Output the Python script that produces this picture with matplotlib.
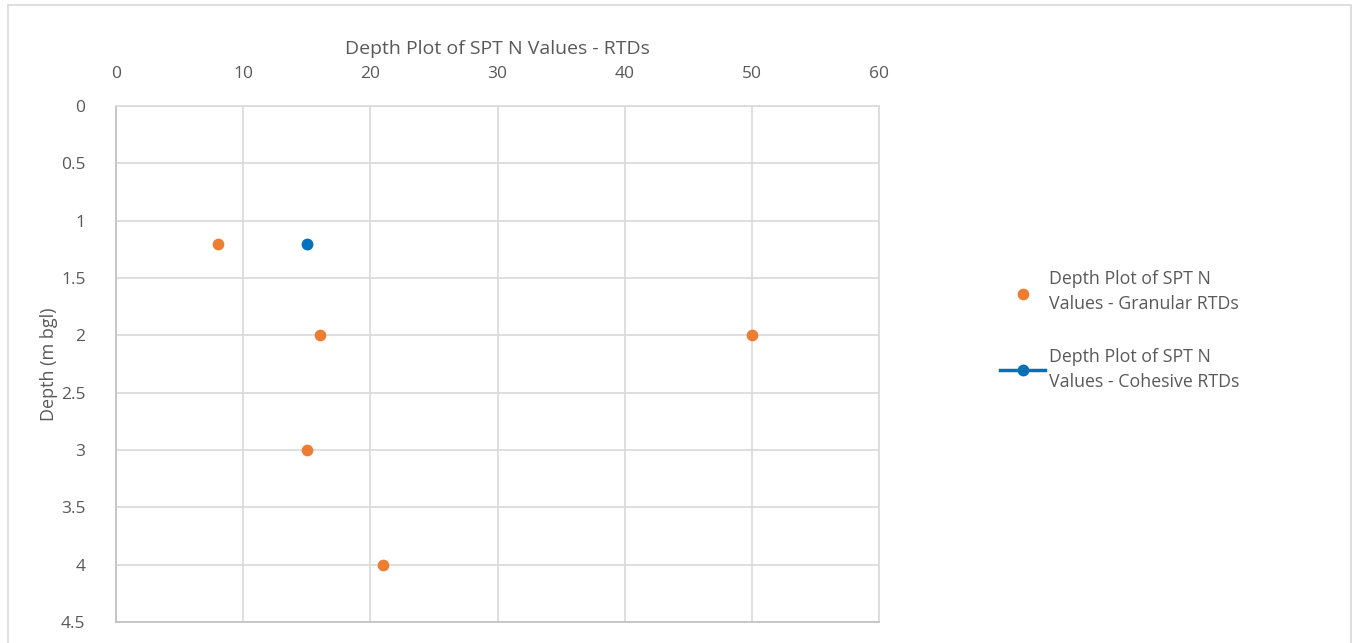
import numpy as np
import matplotlib.pyplot as plt
from matplotlib.patches import Rectangle

# SPT N values vs depth
granular_n = [8, 16, 50, 15, 21]
granular_depth = [1.2, 2.0, 2.0, 3.0, 4.0]
cohesive_n = [15]
cohesive_depth = [1.2]

x_ticks = [0, 10, 20, 30, 40, 50, 60]
y_ticks = [0, 0.5, 1, 1.5, 2, 2.5, 3, 3.5, 4, 4.5]

plt.rcParams['font.family'] = ['Open Sans', 'DejaVu Sans']
grey_txt = '#595959'
grid_c = '#d9d9d9'

fig = plt.figure(figsize=(13.59, 6.43), dpi=100)
fig.patches.append(Rectangle((0.006, -0.01), 0.988, 1.002, transform=fig.transFigure,
                             fill=False, edgecolor='#d9d9d9', linewidth=1.2))
ax = fig.add_axes([0.0854, 0.0327, 0.5614, 0.8024])

ax.scatter(granular_n, granular_depth, s=55, color='#ed7d31', zorder=3,
           label='Depth Plot of SPT N\nValues - Granular RTDs')
ax.plot(cohesive_n, cohesive_depth, '-o', color='#0070c0', markersize=7.5,
        linewidth=2.5, zorder=3, label='Depth Plot of SPT N\nValues - Cohesive RTDs')

ax.set_xlim(0, 60)
ax.set_ylim(4.5, 0)
ax.set_xticks(x_ticks)
ax.set_yticks(y_ticks)
ax.set_yticklabels([f'{v:g}' for v in y_ticks])
ax.xaxis.tick_top()
ax.xaxis.set_label_position('top')
ax.tick_params(length=0, labelsize=12.5, labelcolor=grey_txt)
ax.tick_params(axis='x', pad=17)
ax.tick_params(axis='y', pad=22)
ax.grid(True, color=grid_c, linewidth=1.2)
ax.set_axisbelow(True)
for s in ax.spines.values():
    s.set_color(grid_c)
    s.set_linewidth(1.2)
ax.spines['left'].set_color('#bfbfbf')
ax.spines['bottom'].set_color('#bfbfbf')

ax.set_xlabel('Depth Plot of SPT N Values - RTDs', fontsize=14, color=grey_txt, labelpad=9)
ax.set_ylabel('Depth (m bgl)', fontsize=13, color=grey_txt, labelpad=2)

leg = ax.legend(loc='center left', bbox_to_anchor=(1.138, 0.565), frameon=False,
                fontsize=12.8, labelcolor=grey_txt, handlelength=2.5,
                labelspacing=2.0, handletextpad=0.25)
for t in leg.get_texts():
    t.set_linespacing(1.45)

fig.savefig('out.png', dpi=100)
